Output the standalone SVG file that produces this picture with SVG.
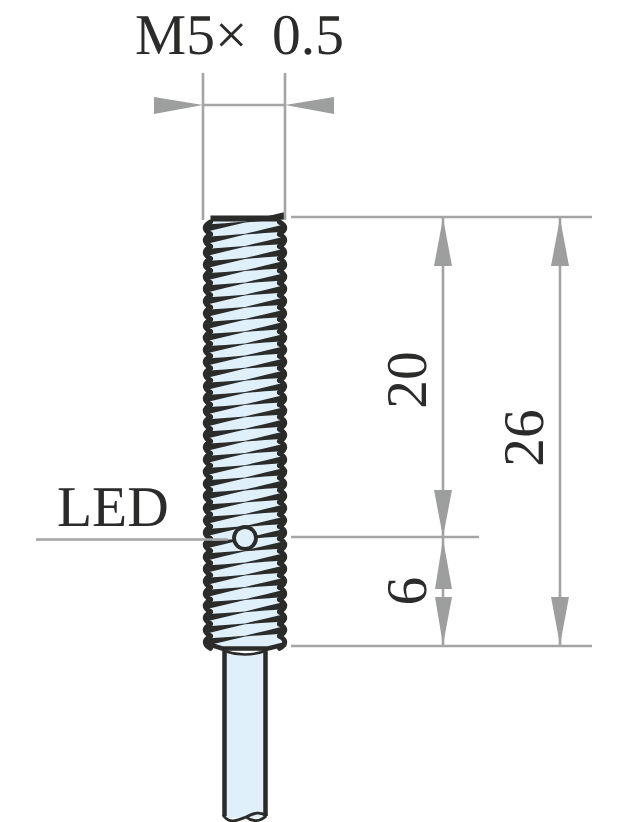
<svg xmlns="http://www.w3.org/2000/svg" width="626" height="822" viewBox="0 0 626 822">
<style>
.dim{stroke:#a3a4a4;stroke-width:2.6;fill:none}
.head{fill:#9d9f9e}
.ink{stroke:#2b2b2a;fill:none;stroke-width:4.500}
.body{fill:#dff0fb}
.lab{font-family:"Liberation Serif","Times New Roman",serif;font-size:57.500px;fill:#2b2b2a;text-rendering:geometricPrecision}
.wedge{fill:#2b2b2a}
</style>
<defs>
<g id="thread">
<path d="M210.500 0Q200 6 210.500 12.200M279.500 0Q290 6 279.500 12.200" stroke="#2b2b2a" stroke-width="5" fill="none" stroke-linecap="round"/>
<path class="wedge" d="M205 2.500L225 1.200L245 -.4L265 -5.200L285 -10L285 -2.500L265 -1.200L245 .4L225 5.200L205 10Z"/>
</g>
</defs>
<g id="sensor">
<rect class="body" x="207" y="220" width="76" height="428"/>
<rect class="body" x="224" y="650" width="42" height="168"/>
<use href="#thread" y="222"/><use href="#thread" y="234.200"/><use href="#thread" y="246.400"/><use href="#thread" y="258.500"/><use href="#thread" y="270.700"/><use href="#thread" y="282.900"/><use href="#thread" y="295.100"/><use href="#thread" y="307.300"/><use href="#thread" y="319.400"/><use href="#thread" y="331.600"/><use href="#thread" y="343.800"/><use href="#thread" y="356"/><use href="#thread" y="368.200"/><use href="#thread" y="380.300"/><use href="#thread" y="392.500"/><use href="#thread" y="404.700"/><use href="#thread" y="416.900"/><use href="#thread" y="429.100"/><use href="#thread" y="441.200"/><use href="#thread" y="453.400"/><use href="#thread" y="465.600"/><use href="#thread" y="477.800"/><use href="#thread" y="490"/><use href="#thread" y="502.100"/><use href="#thread" y="514.300"/><use href="#thread" y="526.500"/><use href="#thread" y="538.700"/><use href="#thread" y="550.900"/><use href="#thread" y="563"/><use href="#thread" y="575.200"/><use href="#thread" y="587.400"/><use href="#thread" y="599.600"/><use href="#thread" y="611.800"/><use href="#thread" y="623.900"/><use href="#thread" y="636.100"/>
<path d="M210.500 218.500H280.500" stroke="#2b2b2a" stroke-width="6" fill="none"/>
<path class="ink" d="M205 643L222 648.500H268L286 644"/>
<path d="M224 651Q245 658 265 651" stroke="#2b2b2a" stroke-width="2.500" fill="#fff"/>
<path class="ink" d="M224.500 650V816M265.500 650V816"/>
<path d="M223 815C230 825 238 820 246 817C254 813 260 811 267 816" stroke="#2b2b2a" stroke-width="2.800" fill="none"/>
<path d="M246 817C252 822 260 822 266 816" stroke="#2b2b2a" stroke-width="2.800" fill="none"/>
</g>
<g id="led">
<circle class="body" cx="245" cy="538" r="11" stroke="#2b2b2a" stroke-width="3.800"/>
<text class="lab" x="57" y="526">LED</text>
</g>
<g id="connectors">
<path class="dim" d="M203 73V220M285 73V220M203 105H285"/>
<path class="head" d="M154 97L203 105L154 114ZM334 97L285 105L334 114Z"/>
<path class="dim" d="M291 217H592M291 537H479M291 646H592M36 539.500H228"/>
<path class="dim" d="M443 218V645M560 218V645"/>
<path class="head" d="M443 218L452 266H434ZM443 537L452 490H434ZM443 539L452 589H435ZM443 645L452 597H435ZM560 218L569 266H551ZM560 645L569 597H551Z"/>
</g>
<g id="labels">
<text class="lab" x="135" y="54">M5×</text>
<text class="lab" x="272" y="54">0.5</text>
<text class="lab" transform="translate(426 380) rotate(-90)" text-anchor="middle">20</text>
<text class="lab" transform="translate(543 438) rotate(-90)" text-anchor="middle">26</text>
<text class="lab" transform="translate(426 591) rotate(-90)" text-anchor="middle">6</text>
</g>
</svg>
